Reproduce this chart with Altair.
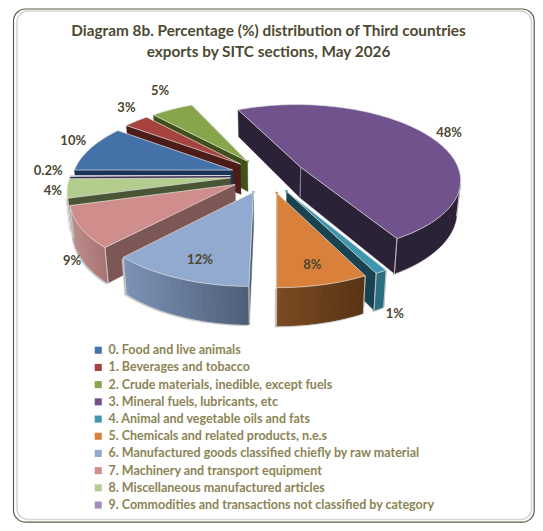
import math
import altair as alt
import pandas as pd

# ---- data
categories = ["0. Food and live animals", "1. Beverages and tobacco",
              "2. Crude materials, inedible, except fuels", "3. Mineral fuels, lubricants, etc",
              "4. Animal and vegetable oils and fats", "5. Chemicals and related products, n.e.s",
              "6. Manufactured goods classified chiefly by raw material",
              "7. Machinery and transport equipment", "8. Miscellaneous manufactured articles",
              "9. Commodities and transactions not classified by category"]
values = [10, 3, 5, 48.4, 1, 7.6, 11.9, 8.7, 4, 0.2]
labels = ["10%", "3%", "5%", "48%", "1%", "8%", "12%", "9%", "4%", "0.2%"]
title_lines = ["Diagram 8b. Percentage (%) distribution of Third countries",
               "exports by SITC sections, May 2026"]

# ---- style
top_colors = ["#4472a8", "#a5433f", "#87a54a", "#70538c", "#3f96ae", "#d9803a", "#92a9d0", "#cf8e8b", "#b3cd8e", "#9e8fbe"]
radial_colors = ["#1a3358", "#4e1c18", "#3f5019", "#2c2238", "#1a4352", "#5c3614", "#4f6078", "#7d5656", "#4a5535", "#3a3050"]
arc_left = ["#1a3358", "#4e1c18", "#3f5019", "#2c2238", "#2a6e80", "#7a4a22", "#7d92b6", "#bd8e8d", "#4a5535", "#3a3050"]
arc_right = ["#1a3358", "#4e1c18", "#3f5019", "#2c2238", "#2a6e80", "#5a3514", "#4e5f78", "#a87474", "#4a5535", "#3a3050"]
label_radius = [1.4, 1.462, 1.589, 1.384, 1.581, 1.045, 1.037, 1.433, 1.319, 1.388]
label_turn = [2.8, 4.1, 3.3, 1.1, 5.6, 0.2, -1.5, -12.4, -1, 2.9]
FONT = "Lato"

# ---- projection of the tilted, exploded pie
CX, CY, AX, BY, K, DEPTH, EXPLODE, START = 268, 175.4, 160, 74.5, 0.15, 31, 0.235, -90


def project(X, Y, z=0):
    s = 1 / (1 + K * Y)
    px = CX + AX * X * s
    py = CY - BY * Y * s + DEPTH * s * z
    px = CX + (px - CX) * (1 - 0.02 * z)
    return px, py


def hexmix(a, b, t):
    ca = [int(a[i:i + 2], 16) for i in (1, 3, 5)]
    cb = [int(b[i:i + 2], 16) for i in (1, 3, 5)]
    return "#" + "".join(f"{round(p + (q - p) * t):02x}" for p, q in zip(ca, cb))


total = sum(values)
spans, acc = [], 0.0
for v in values:
    spans.append((START + acc / total * 360, START + (acc + v) / total * 360))
    acc += v

rows, face_no = [], 0


def add_face(pts, fill, stroke, sw):
    global face_no
    face_no += 1
    for i, (x, y) in enumerate(pts):
        rows.append({"x": x, "y": y, "i": i, "face": f"f{face_no:04d}", "fill": fill, "stroke": stroke, "sw": sw})


def area(p):
    return sum(p[i][0] * p[(i + 1) % len(p)][1] - p[(i + 1) % len(p)][0] * p[i][1] for i in range(len(p))) / 2


def world(ax, ay, deg):
    return ax + math.sin(math.radians(deg)), ay + math.cos(math.radians(deg))


def band(quads):
    return [q[0] for q in quads] + [quads[-1][1], quads[-1][2]] + [q[3] for q in reversed(quads)]


draw_order = sorted(range(len(values)), key=lambda n: -math.cos(math.radians(sum(spans[n]) / 2)))
apexes = {}
for n in draw_order:
    a0, a1 = spans[n]
    mid = (a0 + a1) / 2
    ax, ay = EXPLODE * math.sin(math.radians(mid)), EXPLODE * math.cos(math.radians(mid))
    apexes[n] = project(ax, ay)
    steps = max(2, int((a1 - a0) / 1))
    angs = [a0 + (a1 - a0) * j / steps for j in range(steps + 1)]
    rim = [world(ax, ay, d) for d in angs]
    front = []
    for j in range(steps):
        q = [project(*rim[j]), project(*rim[j + 1]), project(*rim[j + 1], 1), project(*rim[j], 1)]
        if area(q) < 0:
            front.append(q)
    # soft shadow under the outer wall
    if front:
        add_face([(x - 1.5, y + 1.5) for x, y in band(front)], "#c4c4c4", "#c4c4c4", 0.4)
    # straight walls
    visible_walls = 0
    for p, r in (((ax, ay), rim[0]), (rim[-1], (ax, ay))):
        q = [project(*p), project(*r), project(*r, 1), project(*p, 1)]
        if area(q) < 0:
            add_face(q, radial_colors[n], radial_colors[n], 0.4)
            visible_walls += 1
    if visible_walls == 2:
        add_face([project(ax, ay), project(ax, ay, 1)], "transparent", "#8f8a98", 0.7)
    # outer wall, shaded from left to right
    if front:
        if arc_left[n] == arc_right[n]:
            add_face(band(front), arc_left[n], arc_left[n], 0.5)
        else:
            xs_all = [q[0][0] for q in front]
            for j in range(0, len(front), 2):
                chunk = front[j:j + 2]
                t = (max(xs_all) - chunk[0][0][0]) / (max(xs_all) - min(xs_all) + 1e-6)
                t = 1 - t
                c = hexmix(arc_left[n], arc_right[n], max(0, min(1, t)))
                add_face(band(chunk), c, c, 1.0)
        # corner highlights
        add_face([front[0][0], front[0][3]], "transparent", "#c9c9c9", 0.7)
        add_face([front[-1][1], front[-1][2]], "transparent", "#c9c9c9", 0.7)
    # top
    add_face([project(ax, ay)] + [project(*r) for r in rim], top_colors[n], "#e4e4e4", 0.7)

faces = pd.DataFrame(rows)

label_rows = []
for n, (a0, a1) in enumerate(spans):
    d = math.radians((a0 + a1) / 2 + label_turn[n])
    x, y = project(label_radius[n] * math.sin(d), label_radius[n] * math.cos(d))
    label_rows.append({"x": x, "y": y, "t": labels[n]})
label_df = pd.DataFrame(label_rows)

key_df = pd.DataFrame([{"x": apexes[n][0], "y": apexes[n][1], "cat": categories[n]} for n in range(len(values))])

W, H = 527, 515
xs = alt.X("x:Q", scale=alt.Scale(domain=[8, 8 + W], nice=False, zero=False), axis=None)
ys = alt.Y("y:Q", scale=alt.Scale(domain=[8 + H, 8], nice=False, zero=False), axis=None)

frame_df = pd.DataFrame([{"x": 13.5, "x2": 534.2, "y": 9, "y2": 522.2}])
frame = alt.Chart(frame_df).mark_rect(fill="white", stroke="#5c5c48", strokeWidth=1.2, cornerRadius=12).encode(
    x=xs, x2="x2:Q", y=ys, y2="y2:Q")
inner_df = pd.DataFrame([{"x": 17, "x2": 531.5, "y": 11, "y2": 519.5}])
inner = alt.Chart(inner_df).mark_rect(fill="white", stroke="#d6d6d6", strokeWidth=1.6, cornerRadius=11).encode(
    x=xs, x2="x2:Q", y=ys, y2="y2:Q")

key = alt.Chart(key_df).mark_point(filled=True, shape="square", size=6, opacity=1).encode(
    x=xs, y=ys,
    color=alt.Color("cat:N", sort=None, scale=alt.Scale(domain=categories, range=top_colors),
                    legend=alt.Legend(orient="none", legendX=84, legendY=336, title=None, symbolType="square",
                                      symbolSize=50, symbolStrokeWidth=0, labelFont=FONT, labelFontSize=12.5,
                                      labelFontWeight="bold", labelColor="#8b8455", labelLimit=400,
                                      rowPadding=4.2, labelOffset=4, padding=0)))

pie = alt.Chart(faces).mark_line(interpolate="linear-closed").encode(
    x=xs, y=ys, order="i:Q", detail="face:N",
    fill=alt.Fill("fill:N", scale=None), stroke=alt.Stroke("stroke:N", scale=None),
    strokeWidth=alt.StrokeWidth("sw:Q", scale=None))

text = alt.Chart(label_df).mark_text(font=FONT, fontWeight="bold", fontSize=13, color="#4a4630").encode(
    x=xs, y=ys, text="t:N")

chart = alt.layer(frame, inner, key, pie, text).properties(
    width=W, height=H, padding=0, autosize=alt.AutoSizeParams(type="none"),
    title=alt.TitleParams(text=title_lines, font=FONT, fontWeight="bold", fontSize=15.35, color="#4d4a32",
                          anchor="middle", frame="group", lineHeight=21, baseline="top", dx=-3, dy=52, offset=0)
).configure_view(stroke=None)

chart.save("out.html", embed_options={"renderer": "svg", "actions": False})
